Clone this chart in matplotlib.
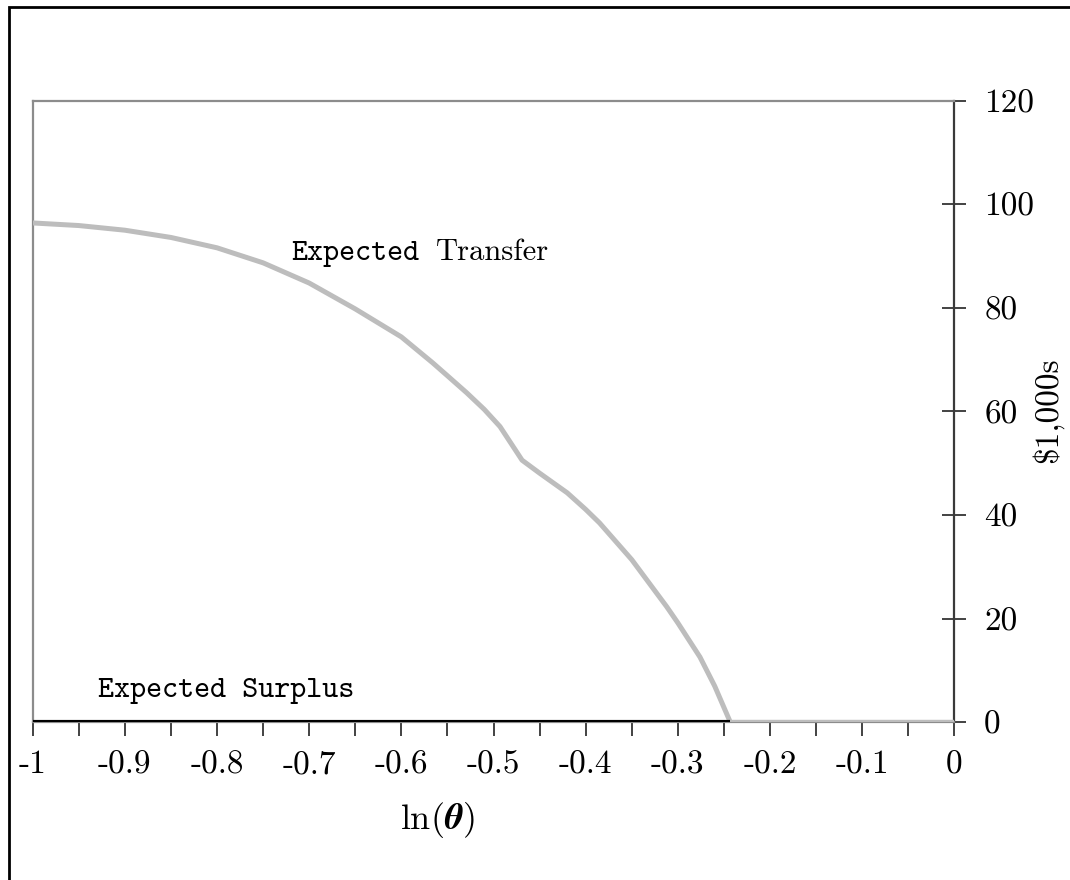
import matplotlib
matplotlib.use('Agg')
import matplotlib.pyplot as plt
from matplotlib.patches import Rectangle

plt.rcParams['axes.unicode_minus'] = False
plt.rcParams['mathtext.fontset'] = 'cm'

# expected transfer, $1,000s, against ln(theta)
ln_theta = [-1.0, -0.95, -0.9, -0.85, -0.8, -0.75, -0.7, -0.65, -0.6,
            -0.566, -0.55, -0.529, -0.51, -0.493, -0.469, -0.45, -0.42, -0.4, -0.385,
            -0.35, -0.312, -0.3, -0.276, -0.26, -0.243, 0.0]
transfer = [96.4, 95.9, 95.0, 93.6, 91.6, 88.7, 84.8, 79.8, 74.4,
            69.4, 66.9, 63.6, 60.4, 57.1, 50.6, 48.1, 44.3, 41.1, 38.5,
            31.4, 22.3, 19.2, 12.6, 7.0, 0.0, 0.0]

# expected surplus stays at zero
surplus_x = [-1.0, -0.243]
surplus = [0.0, 0.0]

x_ticks = [-1, -0.9, -0.8, -0.7, -0.6, -0.5, -0.4, -0.3, -0.2, -0.1, 0]
x_labels = ['-1', '-0.9', '-0.8', '-0.7', '-0.6', '-0.5', '-0.4', '-0.3', '-0.2', '-0.1', '0']
y_ticks = [0, 20, 40, 60, 80, 100, 120]

W, H = 1070, 880
fig = plt.figure(figsize=(W / 100, H / 100), dpi=100)
ax = fig.add_axes([32.7 / W, 1 - 722.3 / H, (954.3 - 32.7) / W, (722.3 - 100.7) / H])

ax.plot(ln_theta, transfer, color='#bdbdbd', lw=3.6, solid_joinstyle='round', zorder=3)
ax.plot(surplus_x, surplus, color='black', lw=3, solid_capstyle='butt', zorder=4)

ax.set_xlim(-1, 0)
ax.set_ylim(0, 120)

ax.spines['left'].set_color('#8c8c8c')
ax.spines['top'].set_color('#8c8c8c')
ax.spines['bottom'].set_color('#8c8c8c')
ax.spines['right'].set_color('#3a3a3a')
for s in ax.spines.values():
    s.set_linewidth(1.6)

ax.yaxis.tick_right()
ax.set_yticks(y_ticks)
ax.set_yticklabels([str(v) for v in y_ticks], fontfamily='cmr10', fontsize=24)
ax.tick_params(axis='y', direction='inout', length=17, width=1.2, color='#222222', pad=13)

ax.set_xticks(x_ticks)
ax.set_xticklabels(x_labels, fontfamily='cmr10', fontsize=24)
ax.set_xticks([-0.95 + 0.1 * i for i in range(10)], minor=True)
ax.tick_params(axis='x', which='both', direction='out', length=10, width=1.2, color='#222222', pad=10)

ax.text(-0.719, 89.2, 'Expected', fontfamily='cmtt10', fontsize=22, ha='left', va='baseline')
ax.text(-0.563, 89.2, 'Transfer', fontfamily='cmr10', fontsize=22, ha='left', va='baseline')
ax.text(-0.929, 4.9, 'Expected Surplus', fontfamily='cmtt10', fontsize=22, ha='left', va='baseline')

fig.text(437 / W, 1 - 820 / H, r'$\ln(\boldsymbol{\theta})$', fontsize=26, ha='center', va='center')
fig.text(1047 / W, 1 - 410 / H, '\\$1,000s', fontfamily='cmr10', fontsize=24,
         rotation=90, ha='center', va='center')

fig.patches.append(Rectangle((9 / W, -0.05), 1.1, 1 - 7 / H + 0.05, fill=False,
                             ec='black', lw=2, transform=fig.transFigure, zorder=10))

fig.savefig('out.png', dpi=100, facecolor='white')
